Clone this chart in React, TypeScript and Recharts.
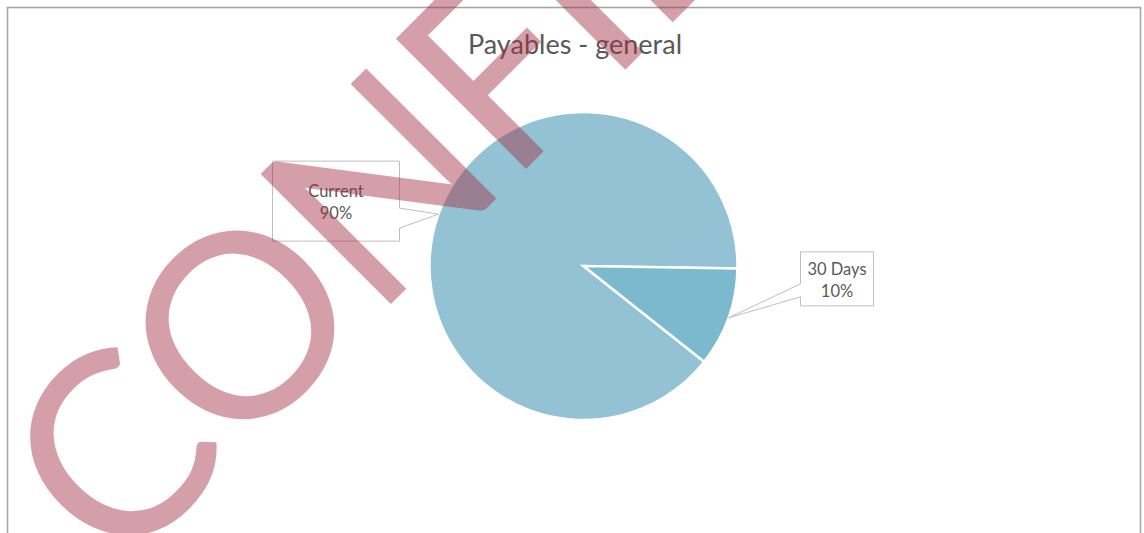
import React from "react";
import { PieChart, Pie, Cell } from "recharts";

// values
const categories = ["Current", "30 Days"];
const shares = [89.6, 10.4];
const sliceColors = ["#93c2d4", "#7bb9cf"];

const W = 1144;
const H = 533;

// callout boxes, placed relative to where the pointer touches the pie
const callouts = [
  { side: "left", dx: -39, dy: -13, w: 127, h: 80, pA: 47, pB: 67 },
  { side: "right", dx: 72, dy: -39, w: 73, h: 54, pA: 32, pB: 45 },
];

const RAD = Math.PI / 180;

function CalloutLabel(props: any) {
  const { cx, cy, midAngle, outerRadius, percent, index, name } = props;
  const c = callouts[index];
  if (!c) return null;
  const tx = cx + outerRadius * Math.cos(midAngle * RAD);
  const ty = cy - outerRadius * Math.sin(midAngle * RAD);
  const top = ty + c.dy - c.h / 2;
  const bottom = top + c.h;
  let left: number, right: number, d: string;
  if (c.side === "left") {
    right = tx + c.dx;
    left = right - c.w;
    d = `M${left},${top} L${right},${top} L${right},${top + c.pA} L${tx},${ty} L${right},${top + c.pB} L${right},${bottom} L${left},${bottom} Z`;
  } else {
    left = tx + c.dx;
    right = left + c.w;
    d = `M${left},${top} L${right},${top} L${right},${bottom} L${left},${bottom} L${left},${top + c.pB} L${tx},${ty} L${left},${top + c.pA} Z`;
  }
  const mx = (left + right) / 2;
  const my = (top + bottom) / 2;
  return (
    <g>
      <path d={d} fill="#fff" stroke="#bfbfbf" strokeWidth={1} />
      <text x={mx} y={my - 10} textAnchor="middle" dominantBaseline="central" fill="#595959" fontSize={16.5} fontFamily="Lato">
        {name}
      </text>
      <text x={mx} y={my + 12} textAnchor="middle" dominantBaseline="central" fill="#595959" fontSize={16.5} fontFamily="Lato">
        {`${Math.round(percent * 100)}%`}
      </text>
    </g>
  );
}

export default function App() {
  const data = categories.map((name, i) => ({ name, value: shares[i] }));

  return (
    <div style={{ position: "absolute", left: 0, top: 0, width: W, height: H, overflow: "hidden", background: "#fff" }}>
      <svg width={W} height={H} style={{ position: "absolute", left: 0, top: 0 }}>
        <rect x={7.5} y={7.5} width={1133} height={600} fill="#fff" stroke="#a6a6a6" strokeWidth={1.6} />
        <text x={575} y={43} textAnchor="middle" dominantBaseline="central" fill="#595959" fontSize={27} fontFamily="Lato">
          Payables - general
        </text>
      </svg>

      <div style={{ position: "absolute", left: 0, top: 0 }}>
        <PieChart width={W} height={H} margin={{ top: 0, right: 0, bottom: 0, left: 0 }}>
          <Pie
            data={data}
            dataKey="value"
            nameKey="name"
            cx={583.5}
            cy={266}
            outerRadius={154}
            startAngle={-38.4}
            endAngle={-398.4}
            stroke="#fff"
            strokeWidth={2.5}
            label={CalloutLabel}
            labelLine={false}
            isAnimationActive={false}
          >
            {data.map((d, i) => (
              <Cell key={d.name} fill={sliceColors[i]} />
            ))}
          </Pie>
        </PieChart>
      </div>

      {/* watermark over everything */}
      <svg width={W} height={H} style={{ position: "absolute", left: 0, top: 0, pointerEvents: "none" }}>
        <text
          x={117}
          y={578}
          transform="rotate(-45 117 578)"
          fill="#a42d43"
          fillOpacity={0.46}
          fontSize={257}
          letterSpacing={-5}
          fontFamily="Lato"
        >
          CONFIDENTIAL
        </text>
      </svg>
    </div>
  );
}
